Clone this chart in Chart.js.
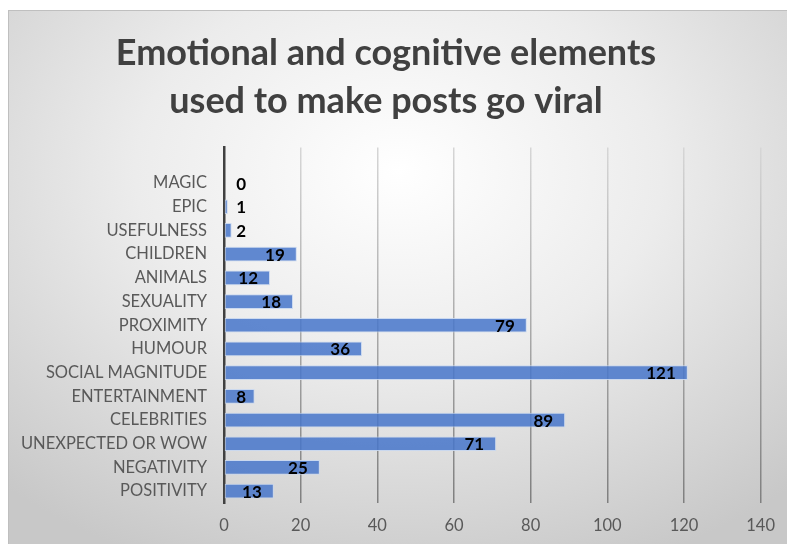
<!DOCTYPE html>
<html>
<head>
  <title>Viral posts</title>
  <script src="https://cdn.jsdelivr.net/npm/chart.js"></script>
  <style>
    body {
      margin: 0;
      background: #ffffff;
    }

    /* chart frame with the soft grey radial fill */
    .frame {
      position: absolute;
      left: 8px;
      top: 10px;
      width: 779px;
      height: 534px;
      border-top: 1px solid #bfbfbf;
      border-left: 1px solid #bfbfbf;
      background: radial-gradient(ellipse 75% 80% at 50% 30%, #ffffff 0%, #ececec 45%, #c8c8c8 100%);
    }
  </style>
</head>
<body>
  <div class="frame">
    <canvas id="viralChart" width="779" height="534"></canvas>
  </div>

  <script>
    // top slot is an empty category, as in the original
    const categories = ['', 'MAGIC', 'EPIC', 'USEFULNESS', 'CHILDREN', 'ANIMALS', 'SEXUALITY', 'PROXIMITY',
      'HUMOUR', 'SOCIAL MAGNITUDE', 'ENTERTAINMENT', 'CELEBRITIES', 'UNEXPECTED OR WOW', 'NEGATIVITY', 'POSITIVITY'];
    const counts = [null, 0, 1, 2, 19, 12, 18, 79, 36, 121, 8, 89, 71, 25, 13];
    const xTicks = [0, 20, 40, 60, 80, 100, 120, 140];

    const titleLines = ['Emotional and cognitive elements', 'used to make posts go viral'];

    // value labels near the end of each bar
    const valueLabels = {
      id: 'valueLabels',
      afterDatasetsDraw(chart) {
        const ctx = chart.ctx;
        const x0 = chart.scales.x.getPixelForValue(0);
        const meta = chart.getDatasetMeta(0);
        ctx.save();
        ctx.font = 'bold 17px Lato';
        ctx.fillStyle = '#000000';
        ctx.textAlign = 'right';
        ctx.textBaseline = 'middle';
        meta.data.forEach((bar, i) => {
          const v = counts[i];
          if (v === null) return;
          const right = Math.max(bar.x - 12, x0 + 22);
          ctx.fillText(String(v), right, bar.y + 1);
        });
        ctx.restore();
      }
    };

    function gridGradient(c) {
      const { ctx, chartArea } = c.chart;
      if (!chartArea) return '#aaaaaa';
      const g = ctx.createLinearGradient(0, chartArea.top, 0, chartArea.bottom);
      g.addColorStop(0, '#d6d6d6');
      g.addColorStop(1, '#7f7f7f');
      return g;
    }

    new Chart(document.getElementById('viralChart'), {
      type: 'bar',
      data: {
        labels: categories,
        datasets: [{
          data: counts,
          backgroundColor: 'rgba(70,118,202,0.85)',
          borderColor: 'rgba(200,215,240,0.9)',
          borderWidth: 1,
          borderSkipped: false,
          categoryPercentage: 1,
          barPercentage: 0.62
        }]
      },
      options: {
        indexAxis: 'y',
        responsive: false,
        animation: false,
        layout: {
          padding: { left: 0, right: 25, top: 0, bottom: 0 }
        },
        plugins: {
          legend: { display: false },
          tooltip: { enabled: false },
          title: {
            display: true,
            text: titleLines,
            color: '#404040',
            font: { family: 'Lato', size: 36, weight: 'bold', lineHeight: 1.34 },
            padding: { top: 18, bottom: 22 }
          }
        },
        scales: {
          x: {
            min: 0,
            max: 140,
            afterFit: s => { s.height = 42; },
            afterBuildTicks: s => { s.ticks = xTicks.map(v => ({ value: v })); },
            grid: { color: gridGradient, lineWidth: 1.5, drawTicks: false },
            border: { display: false },
            ticks: {
              color: '#595959',
              padding: 13,
              font: { family: 'Lato', size: 16.5 }
            }
          },
          y: {
            afterFit: s => { s.width = 215; },
            grid: { display: false, drawTicks: false },
            border: { display: true, color: '#404040', width: 2.5 },
            ticks: {
              color: '#595959',
              padding: 17,
              autoSkip: false,
              font: { family: 'Lato', size: 16.5 }
            }
          }
        }
      },
      plugins: [valueLabels]
    });
  </script>
</body>
</html>
